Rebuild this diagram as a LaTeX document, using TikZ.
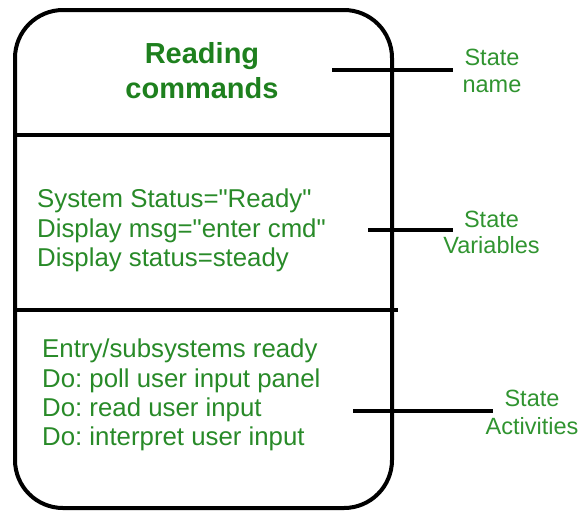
\documentclass[tikz,border=0pt]{standalone}
\usepackage{fontspec}
\setmainfont{Liberation Sans}[Ligatures=TeXOff]
\frenchspacing
\definecolor{gtitle}{RGB}{30,128,30}
\definecolor{gtext}{RGB}{40,138,40}
\definecolor{glabel}{RGB}{48,148,48}
\begin{document}
\begin{tikzpicture}[x=1pt,y=-1pt,
  outline/.style={draw=black,line width=4pt},
  conn/.style={draw=black,line width=4pt},
  titletext/.style={anchor=base,inner sep=0pt,text=gtitle,font=\fontsize{29}{35}\selectfont\bfseries},
  bodytext/.style={anchor=base west,inner sep=0pt,text=gtext,font=\fontsize{25.8}{30}\selectfont\frenchspacing},
  labeltext/.style={anchor=base,inner sep=0pt,text=glabel,font=\fontsize{23.5}{27}\selectfont}]
\useasboundingbox (0,0) rectangle (580,512);
% state box
\draw[outline,rounded corners=48pt] (15,10) rectangle (392,508);
\draw[outline] (15,135) -- (392,135);
\draw[outline] (15,310) -- (398,310);
% title
\node[titletext] (t1) at (202,63) {Reading};
\node[titletext] (t2) at (202,98) {commands};
% variables
\node[bodytext] (v1) at (37,207) {System Status="Ready"};
\node[bodytext] (v2) at (37,237) {Display msg="enter cmd"};
\node[bodytext] (v3) at (37,266) {Display status=steady};
% activities
\node[bodytext] (a1) at (42,357) {Entry/subsystems ready};
\node[bodytext] (a2) at (42,387) {Do: poll user input panel};
\node[bodytext] (a3) at (42,416) {Do: read user input};
\node[bodytext] (a4) at (42,445) {Do: interpret user input};
% labels
\node[labeltext] (ln1) at (492,65) {State};
\node[labeltext] (ln2) at (492,92) {name};
\node[labeltext] (lv1) at (491.5,227) {State};
\node[labeltext] (lv2) at (491.5,253) {Variables};
\node[labeltext] (la1) at (532,406) {State};
\node[labeltext] (la2) at (532,434) {Activities};
% connectors
\coordinate (cn0) at (332,70); \coordinate (cn1) at (453,70);
\coordinate (cv0) at (368,230); \coordinate (cv1) at (453,230);
\coordinate (ca0) at (353,411); \coordinate (ca1) at (493,411);
\draw[conn] (cn0) -- (cn1);
\draw[conn] (cv0) -- (cv1);
\draw[conn] (ca0) -- (ca1);
\end{tikzpicture}
\end{document}
